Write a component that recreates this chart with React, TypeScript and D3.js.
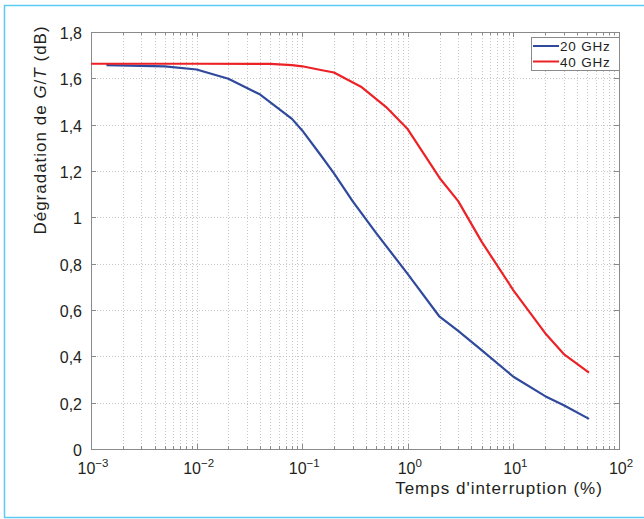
import React, { useEffect, useRef } from 'react';
import * as d3 from 'd3';

// outage time (%) and G/T degradation (dB)
const blueX = [0.0014, 0.005, 0.01, 0.02, 0.04, 0.08, 0.1, 0.15, 0.2, 0.3, 0.5, 1, 2, 3, 5, 10, 20, 30, 52];
const blueY = [1.657, 1.652, 1.638, 1.598, 1.53, 1.425, 1.375, 1.268, 1.19, 1.07, 0.933, 0.755, 0.571, 0.51, 0.427, 0.312, 0.228, 0.189, 0.13];
const redX = [0.001, 0.01, 0.05, 0.08, 0.1, 0.15, 0.2, 0.36, 0.62, 1, 2, 3, 5, 10, 20, 30, 52];
const redY = [1.663, 1.663, 1.662, 1.657, 1.652, 1.636, 1.625, 1.564, 1.477, 1.38, 1.17, 1.07, 0.895, 0.685, 0.5, 0.41, 0.33];
const seriesNames = ['20 GHz', '40 GHz'];
const seriesColors = ['#2f4a9c', '#ec2227'];
const yTicks = [0, 0.2, 0.4, 0.6, 0.8, 1, 1.2, 1.4, 1.6, 1.8];
const xExponents = [-3, -2, -1, 0, 1, 2];

const W = 644;
const H = 519;

export default function App() {
  const svgRef = useRef<SVGSVGElement>(null);

  useEffect(() => {
    if (!svgRef.current) return;
    const svg = d3.select(svgRef.current);
    svg.selectAll('*').remove();

    const left = 91, right = 619, top = 32, bottom = 449;
    const x = d3.scaleLog().domain([1e-3, 1e2]).range([left, right]);
    const y = d3.scaleLinear().domain([0, 1.8]).range([bottom, top]);

    // outer light blue frame (right side is cut off in the original)
    svg.append('path')
      .attr('d', `M${W + 5},5.5 H4.5 V517.5 H${W + 5}`)
      .attr('fill', 'none')
      .attr('stroke', '#5ccbf2')
      .attr('stroke-width', 1.5);

    const grid = svg.append('g').attr('stroke', '#b8b8b8').attr('stroke-width', 0.8).attr('stroke-dasharray', '1,2');

    // vertical grid: decades + minor
    const minor: number[] = [];
    for (let e = -3; e < 2; e++) for (let m = 1; m < 10; m++) minor.push(m * Math.pow(10, e));
    minor.push(100);
    grid.selectAll('line.v').data(minor).join('line')
      .attr('x1', d => Math.round(x(d)) + 0.5).attr('x2', d => Math.round(x(d)) + 0.5)
      .attr('y1', top).attr('y2', bottom);
    grid.selectAll('line.h').data(yTicks.slice(1, -1)).join('line')
      .attr('x1', left).attr('x2', right)
      .attr('y1', d => Math.round(y(d)) + 0.5).attr('y2', d => Math.round(y(d)) + 0.5);

    // ticks inward
    const ticks = svg.append('g').attr('stroke', '#8a8a8a').attr('stroke-width', 1);
    ticks.selectAll('line.xb').data(minor).join('line')
      .attr('x1', d => Math.round(x(d)) + 0.5).attr('x2', d => Math.round(x(d)) + 0.5)
      .attr('y1', bottom).attr('y2', d => bottom - (Number.isInteger(Math.log10(d)) ? 5 : 3));
    ticks.selectAll('line.xt').data(minor).join('line')
      .attr('x1', d => Math.round(x(d)) + 0.5).attr('x2', d => Math.round(x(d)) + 0.5)
      .attr('y1', top).attr('y2', d => top + (Number.isInteger(Math.log10(d)) ? 5 : 3));
    ticks.selectAll('line.yl').data(yTicks).join('line')
      .attr('x1', left).attr('x2', left + 5)
      .attr('y1', d => Math.round(y(d)) + 0.5).attr('y2', d => Math.round(y(d)) + 0.5);
    ticks.selectAll('line.yr').data(yTicks).join('line')
      .attr('x1', right).attr('x2', right - 5)
      .attr('y1', d => Math.round(y(d)) + 0.5).attr('y2', d => Math.round(y(d)) + 0.5);

    // axes box
    svg.append('rect')
      .attr('x', left + 0.5).attr('y', top + 0.5)
      .attr('width', right - left).attr('height', bottom - top)
      .attr('fill', 'none').attr('stroke', '#8a8a8a').attr('stroke-width', 1);

    const line = d3.line<[number, number]>().x(d => x(d[0])).y(d => y(d[1]));
    const series: [number, number][][] = [
      d3.zip(blueX, blueY) as [number, number][],
      d3.zip(redX, redY) as [number, number][],
    ];
    svg.selectAll('path.series').data(series).join('path')
      .attr('class', 'series')
      .attr('d', d => line(d))
      .attr('fill', 'none')
      .attr('stroke', (_, i) => seriesColors[i])
      .attr('stroke-width', 2.2)
      .attr('stroke-linejoin', 'round');

    const font = "'Liberation Sans', Arial, sans-serif";

    // y tick labels
    svg.append('g').selectAll('text').data(yTicks).join('text')
      .attr('x', 82).attr('y', d => y(d) + 7)
      .attr('text-anchor', 'end')
      .attr('font-family', font).attr('font-size', 16).attr('fill', '#231f20')
      .text(d => d3.format('~g')(d).replace('.', ','));

    // x tick labels with superscripts
    const xl = svg.append('g').selectAll('text').data(xExponents).join('text')
      .attr('x', d => x(Math.pow(10, d)) + 2)
      .attr('y', 474)
      .attr('text-anchor', 'middle')
      .attr('font-family', font).attr('font-size', 16).attr('fill', '#231f20');
    xl.append('tspan').text('10');
    xl.append('tspan').attr('dy', -7).attr('font-size', 11.5)
      .text(d => (d < 0 ? '\u2212' : '') + Math.abs(d));

    // axis titles
    svg.append('text')
      .attr('x', 499).attr('y', 494)
      .attr('text-anchor', 'middle')
      .attr('font-family', font).attr('font-size', 17).attr('letter-spacing', 1).attr('fill', '#231f20')
      .text("Temps d'interruption (%)");

    const yt = svg.append('text')
      .attr('transform', 'translate(46,130) rotate(-90)')
      .attr('text-anchor', 'middle')
      .attr('font-family', font).attr('font-size', 17).attr('letter-spacing', 1).attr('fill', '#231f20');
    yt.append('tspan').text('Dégradation de ');
    yt.append('tspan').attr('font-style', 'italic').text('G');
    yt.append('tspan').text('/');
    yt.append('tspan').attr('font-style', 'italic').text('T');
    yt.append('tspan').text(' (dB)');

    // legend
    const lg = svg.append('g');
    lg.append('rect')
      .attr('x', 531.5).attr('y', 37.5).attr('width', 88).attr('height', 33)
      .attr('fill', '#ffffff').attr('stroke', '#8a8a8a').attr('stroke-width', 1);
    seriesNames.forEach((name, i) => {
      const cy = 46 + i * 15.5;
      lg.append('line')
        .attr('x1', 533).attr('x2', 559).attr('y1', cy).attr('y2', cy)
        .attr('stroke', seriesColors[i]).attr('stroke-width', 2);
      lg.append('text')
        .attr('x', 560).attr('y', cy + 5)
        .attr('font-family', font).attr('font-size', 13.5).attr('letter-spacing', 0.8).attr('fill', '#231f20')
        .text(name);
    });
  }, []);

  return (
    <div style={{ position: 'absolute', left: 0, top: 0, width: W, height: H, background: '#fff' }}>
      <svg ref={svgRef} width={W} height={H} style={{ display: 'block' }} />
    </div>
  );
}
